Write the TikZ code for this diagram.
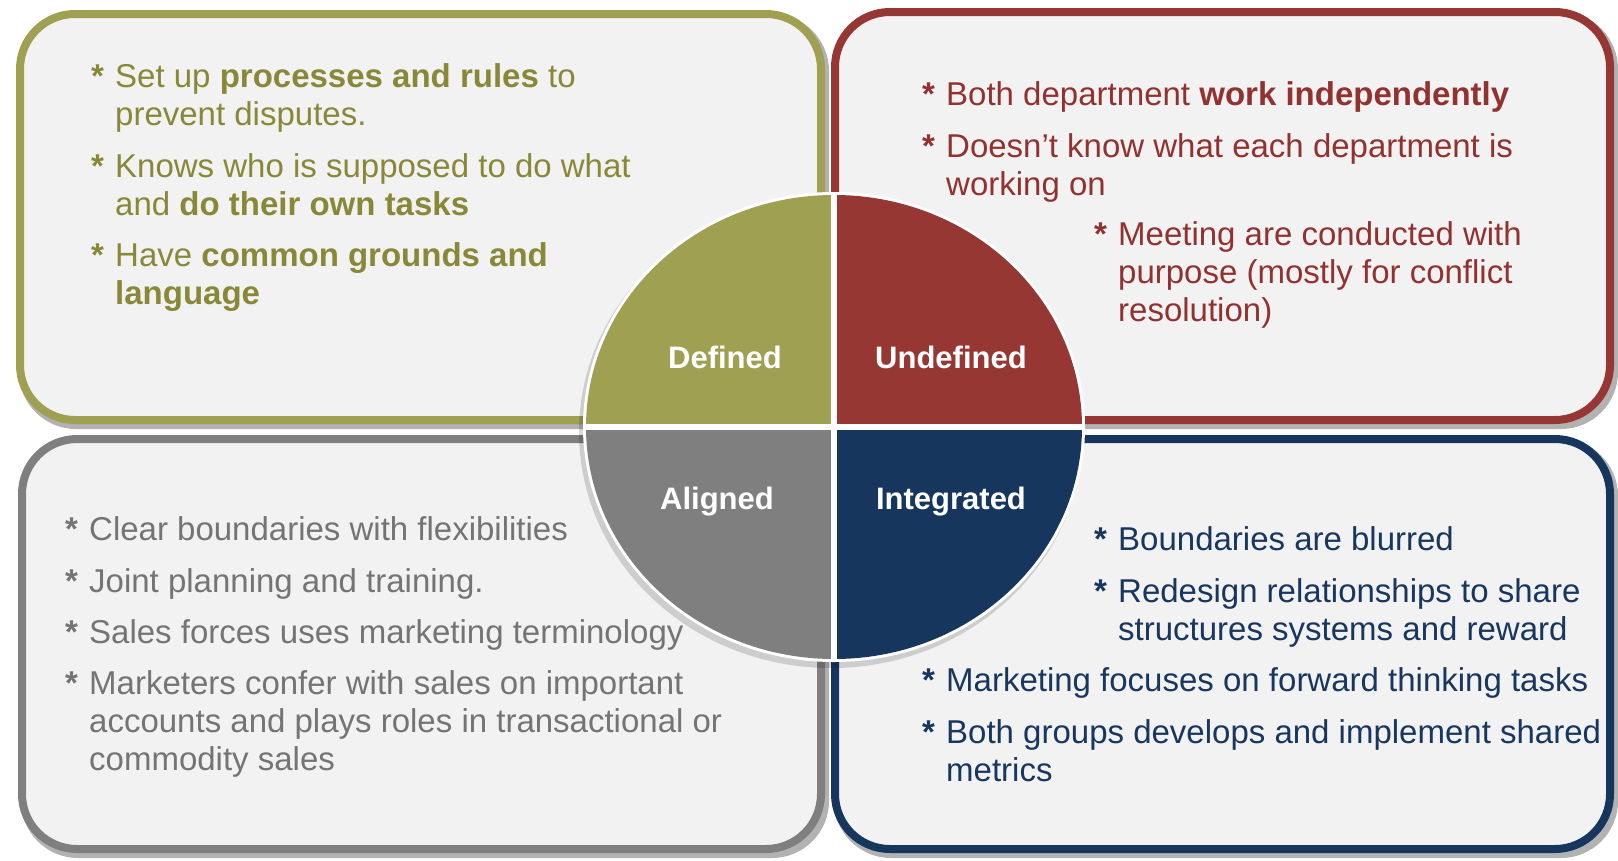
\documentclass[tikz,border=0pt]{standalone}
\usepackage{fontspec}
\setmainfont{Liberation Sans}
\definecolor{olv}{RGB}{160,160,82}
\definecolor{olvtxt}{RGB}{136,136,56}
\definecolor{rd}{RGB}{150,55,52}
\definecolor{rdtxt}{RGB}{146,50,48}
\definecolor{gr}{RGB}{127,127,127}
\definecolor{grtxt}{RGB}{116,116,116}
\definecolor{nv}{RGB}{23,54,93}
\definecolor{nvtxt}{RGB}{24,54,94}
\definecolor{boxbg}{RGB}{242,242,242}
\newcommand\bitem[1]{\makebox[24pt][l]{\bfseries *}\begin{tabular}[t]{@{}l@{}}#1\end{tabular}}
\begin{document}
\begin{tikzpicture}[x=1pt,y=-1pt,
  panel/.style={fill=boxbg, line width=8pt, rounded corners=55pt},
  shadowbox/.style={fill=black, opacity=0.3, rounded corners=57pt},
  itemtext/.style={anchor=base west, inner sep=0pt, font=\fontsize{33}{38}\selectfont},
  quadlabel/.style={text=white, font=\fontsize{31}{31}\selectfont\bfseries, inner sep=0pt}
]
\useasboundingbox (0,0) rectangle (1618,860);
\fill[white] (0,0) rectangle (1618,860);

% shadows
\fill[shadowbox] (19,14) rectangle (829,429);
\fill[shadowbox] (834,12) rectangle (1618,429);
\fill[shadowbox] (21,439) rectangle (829,858);
\fill[shadowbox] (834,439) rectangle (1618,858);

% panels
\draw[panel, draw=olv] (20,14) rectangle (821,420);
\draw[panel, draw=rd] (835,12) rectangle (1610,420);
\draw[panel, draw=gr] (22,439) rectangle (821,849);
\draw[panel, draw=nv] (835,439) rectangle (1610,849);

% Defined texts
\node[itemtext, text=olvtxt] (d1) at (91,87) {\bitem{Set up \textbf{processes and rules} to\\prevent disputes.}};
\node[itemtext, text=olvtxt] (d2) at (91,177) {\bitem{Knows who is supposed to do what\\and \textbf{do their own tasks}}};
\node[itemtext, text=olvtxt] (d3) at (91,266) {\bitem{Have \textbf{common grounds and}\\\textbf{language}}};

% Undefined texts
\node[itemtext, text=rdtxt] (u1) at (922,105) {\bitem{Both department \textbf{work independently}}};
\node[itemtext, text=rdtxt] (u2) at (922,157) {\bitem{Doesn’t know what each department is\\working on}};
\node[itemtext, text=rdtxt] (u3) at (1094,245) {\bitem{Meeting are conducted with\\purpose (mostly for conflict\\resolution)}};

% Aligned texts
\node[itemtext, text=grtxt] (a1) at (65,540) {\bitem{Clear boundaries with flexibilities}};
\node[itemtext, text=grtxt] (a2) at (65,592) {\bitem{Joint planning and training.}};
\node[itemtext, text=grtxt] (a3) at (65,643) {\bitem{Sales forces uses marketing terminology}};
\node[itemtext, text=grtxt] (a4) at (65,694) {\bitem{Marketers confer with sales on important\\accounts and plays roles in transactional or\\commodity sales}};

% Integrated texts
\node[itemtext, text=nvtxt] (i1) at (1094,550) {\bitem{Boundaries are blurred}};
\node[itemtext, text=nvtxt] (i2) at (1094,602) {\bitem{Redesign relationships to share\\structures systems and reward}};
\node[itemtext, text=nvtxt] (i3) at (922,691) {\bitem{Marketing focuses on forward thinking tasks}};
\node[itemtext, text=nvtxt] (i4) at (922,743) {\bitem{Both groups develops and implement shared\\metrics}};

% central circle
\coordinate (c) at (834,427);
\fill[black, opacity=0.15] ([shift={(-3,5)}]c) ellipse [x radius=252, y radius=236];
\fill[white] (c) ellipse [x radius=251, y radius=235];
\begin{scope}
  \clip (c) ellipse [x radius=248, y radius=232];
  \fill[olv] (c) rectangle ++(-260,-250);
  \fill[rd] (c) rectangle ++(260,-250);
  \fill[gr] (c) rectangle ++(-260,250);
  \fill[nv] (c) rectangle ++(260,250);
\end{scope}
\draw[white, line width=6pt] (834,193) -- (834,661);
\draw[white, line width=6pt] (584,427) -- (1084,427);

\node[quadlabel] (qd) at (725,357) {Defined};
\node[quadlabel] (qu) at (951,357) {Undefined};
\node[quadlabel] (qa) at (717,502) {Aligned};
\node[quadlabel] (qi) at (951,502) {Integrated};
\end{tikzpicture}
\end{document}
